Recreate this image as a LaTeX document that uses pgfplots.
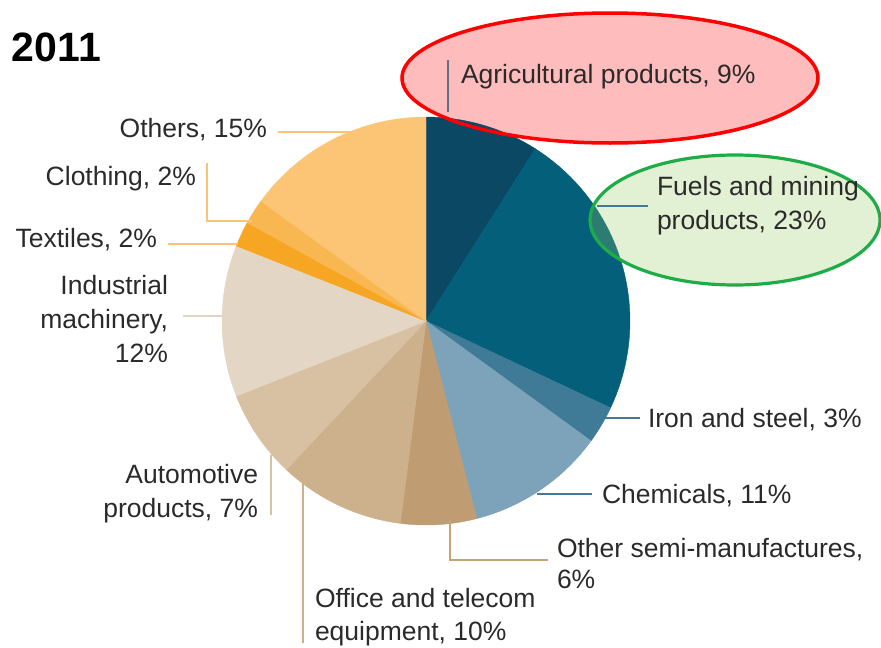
\documentclass[border=0pt]{standalone}
\usepackage{pgfplots}
\pgfplotsset{compat=1.18}
\usepackage{fontspec}
\setmainfont{Liberation Sans}
\definecolor{cAgri}{RGB}{10,72,100}
\definecolor{cFuel}{RGB}{4,95,122}
\definecolor{cIron}{RGB}{63,123,150}
\definecolor{cChem}{RGB}{124,163,186}
\definecolor{cSemi}{RGB}{191,156,114}
\definecolor{cOffice}{RGB}{205,176,140}
\definecolor{cAuto}{RGB}{216,192,163}
\definecolor{cInd}{RGB}{228,214,196}
\definecolor{cTex}{RGB}{247,166,35}
\definecolor{cCloth}{RGB}{249,183,81}
\definecolor{cOth}{RGB}{252,197,117}
\definecolor{txt}{RGB}{42,42,42}
\definecolor{lOrange}{RGB}{250,196,120}
\definecolor{lInd}{RGB}{226,212,196}
\definecolor{lAuto}{RGB}{214,194,168}
\definecolor{lOffice}{RGB}{205,176,136}
\definecolor{lSemi}{RGB}{198,164,120}
\definecolor{lTeal}{RGB}{70,122,146}
\definecolor{lAgri}{RGB}{100,112,130}
\definecolor{pinkfill}{RGB}{255,188,188}
\definecolor{gfill}{RGB}{150,200,98}
\definecolor{gline}{RGB}{30,172,72}
% slice shares (%), clockwise from 12 o'clock
\def\pAgri{9}\def\pFuel{23}\def\pIron{3}\def\pChem{11}\def\pSemi{6}
\def\pOffice{10}\def\pAuto{7}\def\pInd{12}\def\pTex{2}\def\pCloth{2}\def\pOth{15}
\begin{document}
\begin{tikzpicture}
\useasboundingbox (0,0) rectangle (881pt,648pt);
\begin{axis}[
  width=881pt, height=648pt, scale only axis,
  xmin=0, xmax=881, ymin=0, ymax=648, y dir=reverse,
  hide axis, clip=false,
  every axis plot/.append style={samples=40, line width=0.4pt},
]
% red annotation ellipse (fill behind pie)
\fill[pinkfill] (axis cs:610,78) ellipse [x radius=208, y radius=65];
% pie slices
\addplot[fill=cAgri, draw=cAgri, domain={90-3.6*(\pAgri)}:{90}]
  ({426+204*cos(x)},{321-204*sin(x)}) -- (axis cs:426,321) -- cycle;
\addplot[fill=cFuel, draw=cFuel, domain={90-3.6*(\pAgri+\pFuel)}:{90-3.6*(\pAgri)}]
  ({426+204*cos(x)},{321-204*sin(x)}) -- (axis cs:426,321) -- cycle;
\addplot[fill=cIron, draw=cIron, domain={90-3.6*(\pAgri+\pFuel+\pIron)}:{90-3.6*(\pAgri+\pFuel)}]
  ({426+204*cos(x)},{321-204*sin(x)}) -- (axis cs:426,321) -- cycle;
\addplot[fill=cChem, draw=cChem, domain={90-3.6*(\pAgri+\pFuel+\pIron+\pChem)}:{90-3.6*(\pAgri+\pFuel+\pIron)}]
  ({426+204*cos(x)},{321-204*sin(x)}) -- (axis cs:426,321) -- cycle;
\addplot[fill=cSemi, draw=cSemi, domain={90-3.6*(46+\pSemi)}:{90-3.6*46}]
  ({426+204*cos(x)},{321-204*sin(x)}) -- (axis cs:426,321) -- cycle;
\addplot[fill=cOffice, draw=cOffice, domain={90-3.6*(52+\pOffice)}:{90-3.6*52}]
  ({426+204*cos(x)},{321-204*sin(x)}) -- (axis cs:426,321) -- cycle;
\addplot[fill=cAuto, draw=cAuto, domain={90-3.6*(62+\pAuto)}:{90-3.6*62}]
  ({426+204*cos(x)},{321-204*sin(x)}) -- (axis cs:426,321) -- cycle;
\addplot[fill=cInd, draw=cInd, domain={90-3.6*(69+\pInd)}:{90-3.6*69}]
  ({426+204*cos(x)},{321-204*sin(x)}) -- (axis cs:426,321) -- cycle;
\addplot[fill=cTex, draw=cTex, domain={90-3.6*(81+\pTex)}:{90-3.6*81}]
  ({426+204*cos(x)},{321-204*sin(x)}) -- (axis cs:426,321) -- cycle;
\addplot[fill=cCloth, draw=cCloth, domain={90-3.6*(83+\pCloth)}:{90-3.6*83}]
  ({426+204*cos(x)},{321-204*sin(x)}) -- (axis cs:426,321) -- cycle;
\addplot[fill=cOth, draw=cOth, domain={90-3.6*(85+\pOth)}:{90-3.6*85}]
  ({426+204*cos(x)},{321-204*sin(x)}) -- (axis cs:426,321) -- cycle;
% red border on top
\draw[red, line width=3.5pt] (axis cs:610,78) ellipse [x radius=208, y radius=65];
% green annotation ellipse
\draw[gline, line width=3.2pt, fill=gfill, fill opacity=0.28] (axis cs:735,220) ellipse [x radius=145, y radius=65];
% leader lines
\begin{scope}[line width=1.4pt]
\draw[lOrange] (axis cs:278,132) -- (axis cs:352,132);
\draw[lOrange] (axis cs:207,163) -- (axis cs:207,221) -- (axis cs:252,221);
\draw[lOrange] (axis cs:168,244) -- (axis cs:238,244);
\draw[lInd] (axis cs:183,316) -- (axis cs:224,316);
\draw[lAuto] (axis cs:271,455) -- (axis cs:271,515);
\draw[lOffice] (axis cs:303,483) -- (axis cs:303,643);
\draw[lSemi] (axis cs:450,520) -- (axis cs:450,560) -- (axis cs:548,560);
\draw[lTeal] (axis cs:537,494) -- (axis cs:592,494);
\draw[lTeal] (axis cs:605,418) -- (axis cs:640,418);
\draw[lTeal] (axis cs:597,206) -- (axis cs:648,206);
\draw[lAgri] (axis cs:448,60) -- (axis cs:448,112);
\end{scope}
% labels
\begin{scope}[every node/.style={inner sep=0pt, outer sep=0pt, text=txt, font=\fontsize{26.5}{33}\selectfont}]
\node[anchor=base west, font=\fontsize{41}{46}\selectfont\bfseries, text={RGB,255:red,30;green,30;blue,30}] at (axis cs:12,61) {2011};
\node[anchor=base west] at (axis cs:461,83) {Agricultural products, 9\%};
\node[anchor=base west] at (axis cs:657,195) {Fuels and mining};
\node[anchor=base west] at (axis cs:657,229) {products, 23\%};
\node[anchor=base west] at (axis cs:648,427) {Iron and steel, 3\%};
\node[anchor=base west] at (axis cs:602,503) {Chemicals, 11\%};
\node[anchor=base west] at (axis cs:557,557) {Other semi-manufactures,};
\node[anchor=base west] at (axis cs:557,588) {6\%};
\node[anchor=base west] at (axis cs:315,607) {Office and telecom};
\node[anchor=base west] at (axis cs:315,640) {equipment, 10\%};
\node[anchor=base east] at (axis cs:258,483) {Automotive};
\node[anchor=base east] at (axis cs:258,517) {products, 7\%};
\node[anchor=base east] at (axis cs:168,294) {Industrial};
\node[anchor=base east] at (axis cs:168,328) {machinery,};
\node[anchor=base east] at (axis cs:168,362) {12\%};
\node[anchor=base east] at (axis cs:157,247) {Textiles, 2\%};
\node[anchor=base east] at (axis cs:196,185) {Clothing, 2\%};
\node[anchor=base east] at (axis cs:267,137) {Others, 15\%};
\end{scope}
\end{axis}
\end{tikzpicture}
\end{document}
